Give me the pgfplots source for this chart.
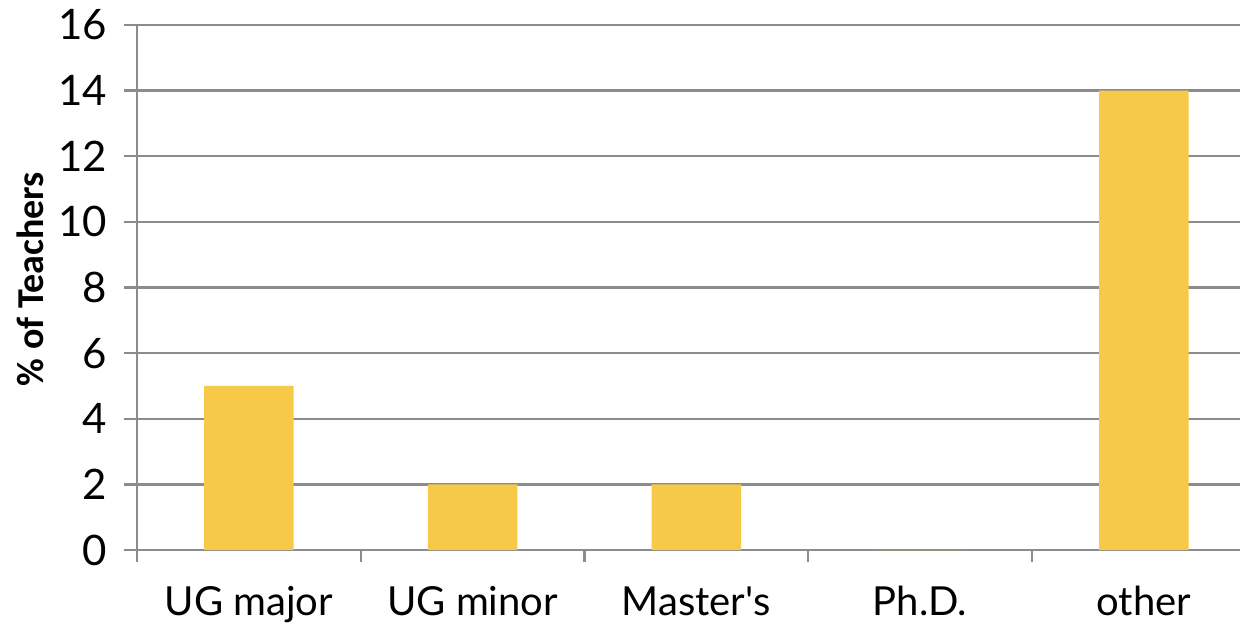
\documentclass[border=0pt]{standalone}
\usepackage{fontspec}
\setmainfont{Lato}
\newfontfamily\carlito{Carlito}
\usepackage{pgfplots}
\pgfplotsset{compat=1.18}
\definecolor{barcol}{HTML}{F7C948}
\definecolor{gridcol}{HTML}{8C8C8C}
\begin{document}
\begin{tikzpicture}
\begin{axis}[name=ax, scale only axis, width=551.5pt, height=262.5pt,
  ybar, bar width=0.4, xmin=-0.5, xmax=4.43, ymin=0, ymax=16,
  ytick={0,2,...,16}, xtick={0,...,4},
  xticklabels={UG major,UG minor,Master\textquotesingle s,Ph.D.,other},
  minor xtick={-0.5,0.5,1.5,2.5,3.5},
  axis x line*=bottom, axis y line*=left,
  axis line style={gridcol, line width=1.2pt},
  ymajorgrids, grid style={gridcol, line width=1.2pt},
  tick align=outside, major tick length=6.5pt, minor tick length=6pt,
  tick style={gridcol, line width=1.2pt},
  major x tick style={draw=none},
  /pgf/number format/assume math mode=true,
  yticklabel style={font=\fontsize{21}{24}\selectfont, anchor=east, xshift=-5pt},
  xticklabel style={font=\fontsize{20}{24}\selectfont, anchor=base, yshift=-26pt},
  ylabel={\% of Teachers},
  every axis y label/.style={at={(axis description cs:0,0.516)}, xshift=-53.5pt, rotate=90, anchor=center,
    font=\carlito\bfseries\fontsize{19}{22}\selectfont},
  clip=false,
]
\addplot[fill=barcol, draw=none] coordinates {(0,5) (1,2) (2,2) (3,0) (4,14)};
\end{axis}
\pgfresetboundingbox
\path[use as bounding box] ([xshift=-68.5pt,yshift=-36.5pt]ax.south west) rectangle ([yshift=12.5pt]ax.north east);
\end{tikzpicture}
\end{document}
